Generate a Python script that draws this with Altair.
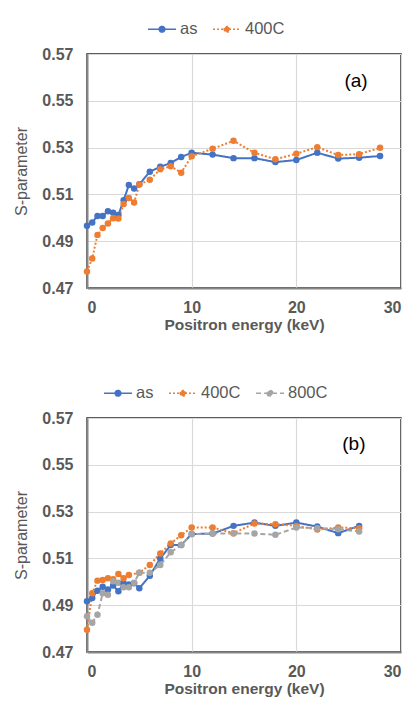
import altair as alt
import pandas as pd

# Panel (a)
xa = [0, 0.5, 1, 1.5, 2, 2.5, 3, 3.5, 4, 4.5, 5, 6, 7, 8, 9, 10, 12, 14, 16, 18, 20, 22, 24, 26, 28]
a_as = [0.4966, 0.4980, 0.5008, 0.5008, 0.5028, 0.5022, 0.5012, 0.5075, 0.5140, 0.5125, 0.5143,
        0.5197, 0.5218, 0.5234, 0.5260, 0.5278, 0.5270, 0.5255, 0.5255, 0.5238, 0.5247, 0.5278,
        0.5253, 0.5257, 0.5264]
a_400 = [0.4771, 0.4826, 0.4927, 0.4956, 0.4976, 0.4998, 0.4997, 0.5059, 0.5085, 0.5065, 0.5142,
         0.5163, 0.5207, 0.5220, 0.5193, 0.5263, 0.5295, 0.5329, 0.5278, 0.5250, 0.5274, 0.5302,
         0.5268, 0.5272, 0.5299]

# Panel (b)
xb = [0, 0.5, 1, 1.5, 2, 2.5, 3, 3.5, 4, 4.5, 5, 6, 7, 8, 9, 10, 12, 14, 16, 18, 20, 22, 24, 26]
b_as = [0.4917, 0.4931, 0.4962, 0.4979, 0.4967, 0.4984, 0.4960, 0.4994, 0.4988, 0.4994, 0.4972,
        0.5026, 0.5100, 0.5157, 0.5157, 0.5204, 0.5206, 0.5239, 0.5253, 0.5239, 0.5253, 0.5236,
        0.5208, 0.5239]
xb_400 = [0, 0.5, 1, 1.5, 2, 2.5, 3, 3.5, 4, 5, 6, 7, 8, 9, 10, 12, 14, 16, 18, 20, 22, 24, 26]
b_400 = [0.4795, 0.4951, 0.5005, 0.5008, 0.5015, 0.5011, 0.5033, 0.5015, 0.5029, 0.5039, 0.5072,
         0.5121, 0.5164, 0.5199, 0.5232, 0.5232, 0.5208, 0.5249, 0.5246, 0.5239, 0.5223, 0.5232,
         0.5229]
b_800 = [0.4853, 0.4825, 0.4859, 0.4951, 0.4945, 0.5002, 0.4996, 0.4977, 0.4977, 0.4996, 0.5039,
         0.5039, 0.5072, 0.5126, 0.5157, 0.5204, 0.5206, 0.5206, 0.5206, 0.5201, 0.5232, 0.5229,
         0.5225, 0.5215]

series_names = ["as", "400C", "800C"]
colors = ["#4472C4", "#ED7D31", "#A5A5A5"]
dashes = [[1, 0], [2, 2], [5, 3]]

# panel labels and where they sit (data units)
panel_labels = ["(a)", "(b)"]
label_E = [25.7, 25.5]
label_S = [0.5585, 0.5590]


def frame(xs, ys, name):
    return pd.DataFrame({"E": xs, "S": ys, "series": name})


df_a = pd.concat([frame(xa, a_as, "as"), frame(xa, a_400, "400C")])
df_b = pd.concat([frame(xb, b_as, "as"), frame(xb_400, b_400, "400C"), frame(xb, b_800, "800C")])

W, H = 314, 234
FONT = "Liberation Sans"
GRAY = "#595959"
SYM = "M-1,0H1M-0.2,0A0.2,0.2,0,1,0,0.2,0A0.2,0.2,0,1,0,-0.2,0Z"


def panel(df, n, idx, legend_x):
    dom = series_names[:n]
    color = alt.Color("series:N", sort=dom,
                      scale=alt.Scale(domain=dom, range=colors[:n]),
                      legend=alt.Legend(title=None, orient="none", legendX=legend_x, legendY=-40,
                                        direction="horizontal", symbolType=SYM, symbolSize=784,
                                        symbolStrokeWidth=1.6, labelFontSize=16.5, labelColor=GRAY,
                                        labelFont=FONT, columnPadding=11, labelOffset=3))
    dash = alt.StrokeDash("series:N", sort=dom,
                          scale=alt.Scale(domain=dom, range=dashes[:n]), legend=None)
    xenc = alt.X("E:Q", scale=alt.Scale(domain=[0, 30], nice=False),
                 axis=alt.Axis(values=[0, 10, 20, 30], title="Positron energy (keV)"))
    yenc = alt.Y("S:Q", scale=alt.Scale(domain=[0.47, 0.57], nice=False, zero=False),
                 axis=alt.Axis(values=[0.47, 0.49, 0.51, 0.53, 0.55, 0.57], format=".2f",
                               title="S-parameter"))
    lines = alt.Chart(df).mark_line(
        strokeWidth=2, point=alt.OverlayMarkDef(filled=True, size=42, strokeDash=[1, 0])
    ).encode(x=xenc, y=yenc, color=color, strokeDash=dash, order=alt.Order("E:Q"))
    txt = alt.Chart(pd.DataFrame({"E": [label_E[idx]], "S": [label_S[idx]],
                                  "t": [panel_labels[idx]]})).mark_text(
        fontSize=19, font=FONT, color="#000000"
    ).encode(x="E:Q", y="S:Q", text="t:N")
    return alt.layer(lines, txt).properties(width=W, height=H)


chart = alt.vconcat(
    panel(df_a, 2, 0, 60),
    panel(df_b, 3, 1, 16),
    spacing=43,
).resolve_scale(color="independent", strokeDash="independent").resolve_legend(
    color="independent"
).properties(
    padding={"left": 4, "top": 5, "right": 0, "bottom": 2}
).configure_view(
    stroke="#262626", strokeWidth=1.5
).configure_axis(
    grid=True, gridColor="#D9D9D9", gridWidth=1.2,
    domain=True, domainColor="#868686", domainWidth=2,
    ticks=False, labelFont=FONT, labelFontSize=16, labelFontWeight="bold",
    labelColor=GRAY, titleFont=FONT, titleColor=GRAY
).configure_axisY(
    labelPadding=14, titlePadding=8, minExtent=50, maxExtent=50,
    titleFontWeight="normal", titleFontSize=16
).configure_axisX(
    labelPadding=11, titlePadding=2, titleFontWeight="bold", titleFontSize=15.5
)

chart.save("out.html", embed_options={"renderer": "svg", "actions": False})
